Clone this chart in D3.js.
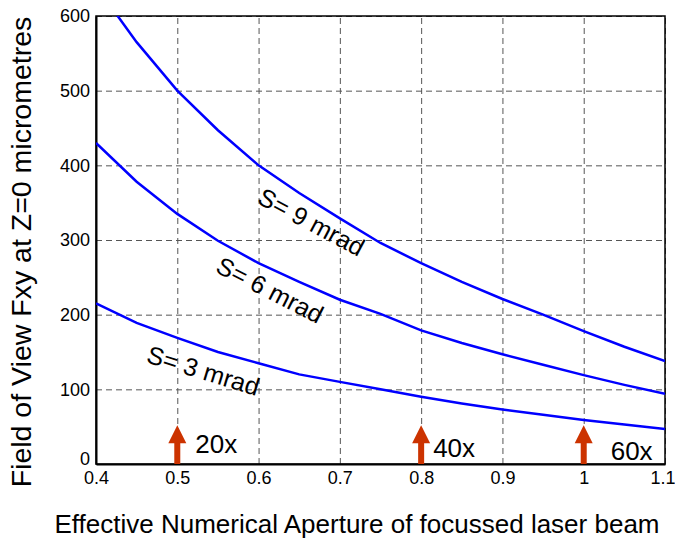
<!DOCTYPE html>
<html>
<head>
<meta charset="utf-8">
<script src="https://cdn.jsdelivr.net/npm/d3@7"></script>
<style>
  body { margin: 0; background: #fff; }
  svg { font-family: Arial, "Liberation Sans", sans-serif; }
  .grid line { stroke: #555; stroke-dasharray: 6,4; stroke-width: 1; }
  .grid path { display: none; }
  .axis path, .axis line { stroke: #000; }
</style>
</head>
<body>
<svg width="675" height="539"></svg>
<script>
// numerical aperture values (x)
var na = [0.40, 0.45, 0.50, 0.55, 0.60, 0.65, 0.70, 0.75, 0.80, 0.85, 0.90, 0.95, 1.00, 1.05, 1.10];

// field of view (micrometres) for each slit angle
var fov9 = [640, 565, 500, 447, 400, 363, 329, 296, 269, 244, 221, 200, 178, 157, 138];
var fov6 = [430, 378, 335, 299, 269, 244, 220, 201, 179, 162, 147, 133, 119, 106, 94];
var fov3 = [215, 189, 169, 150, 135, 120, 110, 100, 90, 81, 73, 66, 59, 53, 47];

var xTicks = [0.4, 0.5, 0.6, 0.7, 0.8, 0.9, 1, 1.1];
var yTicks = [0, 100, 200, 300, 400, 500, 600];

// objective markers
var objNA = [0.5, 0.8, 1.0];
var objLabel = ["20x", "40x", "60x"];
var arrowTop = 52;

var svg = d3.select("svg"),
    margin = {top: 16, right: 10, bottom: 75, left: 96},
    width = 665 - margin.left,
    height = 464 - margin.top,
    g = svg.append("g").attr("transform", "translate(" + margin.left + "," + margin.top + ")");

var x = d3.scaleLinear().domain([0.4, 1.1]).range([0, width]),
    y = d3.scaleLinear().domain([0, 600]).range([height, 0]);

svg.append("defs").append("clipPath").attr("id", "clip")
  .append("rect").attr("width", width).attr("height", height);

// gridlines
g.append("g")
    .attr("class", "grid")
    .attr("transform", "translate(0," + height + ")")
    .call(d3.axisBottom(x).tickValues(xTicks).tickSizeInner(-height).tickSizeOuter(0).tickFormat(""));
g.append("g")
    .attr("class", "grid")
    .call(d3.axisLeft(y).tickValues(yTicks).tickSizeInner(-width).tickSizeOuter(0).tickFormat(""));

// frame
g.append("rect")
    .attr("width", width).attr("height", height)
    .attr("fill", "none").attr("stroke", "#000").attr("stroke-width", 1.5);

// axes
g.append("g")
    .attr("class", "axis")
    .attr("transform", "translate(0," + height + ")")
    .call(d3.axisBottom(x).tickValues(xTicks).tickSize(0).tickPadding(7).tickFormat(d3.format("")))
    .call(function(a) {
      a.attr("font-family", "Arial, 'Liberation Sans', sans-serif").attr("font-size", 18);
      a.select(".domain").attr("stroke-width", 2);
      // last label sits against the right edge
      a.selectAll(".tick text").filter(function(d) { return d === 1.1; })
          .attr("text-anchor", "end").attr("x", 10);
    });
g.append("g")
    .attr("class", "axis")
    .call(d3.axisLeft(y).tickValues(yTicks).tickSize(0).tickPadding(6))
    .call(function(a) {
      a.attr("font-family", "Arial, 'Liberation Sans', sans-serif").attr("font-size", 18);
      a.select(".domain").attr("stroke-width", 2);
      a.selectAll(".tick text").filter(function(d) { return d === 0; }).attr("dy", "0.05em");
    });

// curves
var line = d3.line()
    .x(function(d, i) { return x(na[i]); })
    .y(function(d) { return y(d); });

[fov9, fov6, fov3].forEach(function(s) {
  g.append("path")
      .attr("clip-path", "url(#clip)")
      .attr("d", line(s))
      .attr("fill", "none")
      .attr("stroke", "#0000ff")
      .attr("stroke-width", 2.5);
});

// curve labels
var labels = [
  {t: "S= 9 mrad", x: 0.665, y: 324, a: 28},
  {t: "S= 6 mrad", x: 0.614, y: 233, a: 27},
  {t: "S= 3 mrad", x: 0.532, y: 125, a: 17}
];
labels.forEach(function(l) {
  g.append("text")
      .attr("transform", "translate(" + x(l.x) + "," + y(l.y) + ") rotate(" + l.a + ")")
      .attr("text-anchor", "middle")
      .attr("dy", "0.35em")
      .style("font-size", "25px")
      .text(l.t);
});

// objective arrows
objNA.forEach(function(v) {
  var cx = x(v), top = y(arrowTop), bot = y(0);
  g.append("rect")
      .attr("x", cx - 3).attr("y", top + 14)
      .attr("width", 6).attr("height", bot - top - 14)
      .attr("fill", "#cc3300");
  g.append("path")
      .attr("d", "M" + (cx - 9) + "," + (top + 18) + "L" + cx + "," + top + "L" + (cx + 9) + "," + (top + 18) + "Z")
      .attr("fill", "#cc3300");
});
var objText = [{dx: 18, y: 15}, {dx: 12, y: 10}, {dx: 27, y: 6}];
objNA.forEach(function(v, i) {
  g.append("text")
      .attr("x", x(v) + objText[i].dx)
      .attr("y", y(objText[i].y))
      .style("font-size", "26px")
      .text(objLabel[i]);
});

// axis titles
svg.append("text")
    .attr("transform", "rotate(-90)")
    .attr("x", -252)
    .attr("y", 31)
    .attr("text-anchor", "middle")
    .style("font-size", "28.5px")
    .text("Field of View Fxy at Z=0 micrometres");

svg.append("text")
    .attr("x", 357)
    .attr("y", 533)
    .attr("text-anchor", "middle")
    .style("font-size", "26px")
    .text("Effective Numerical Aperture of focussed laser beam");
</script>
</body>
</html>
